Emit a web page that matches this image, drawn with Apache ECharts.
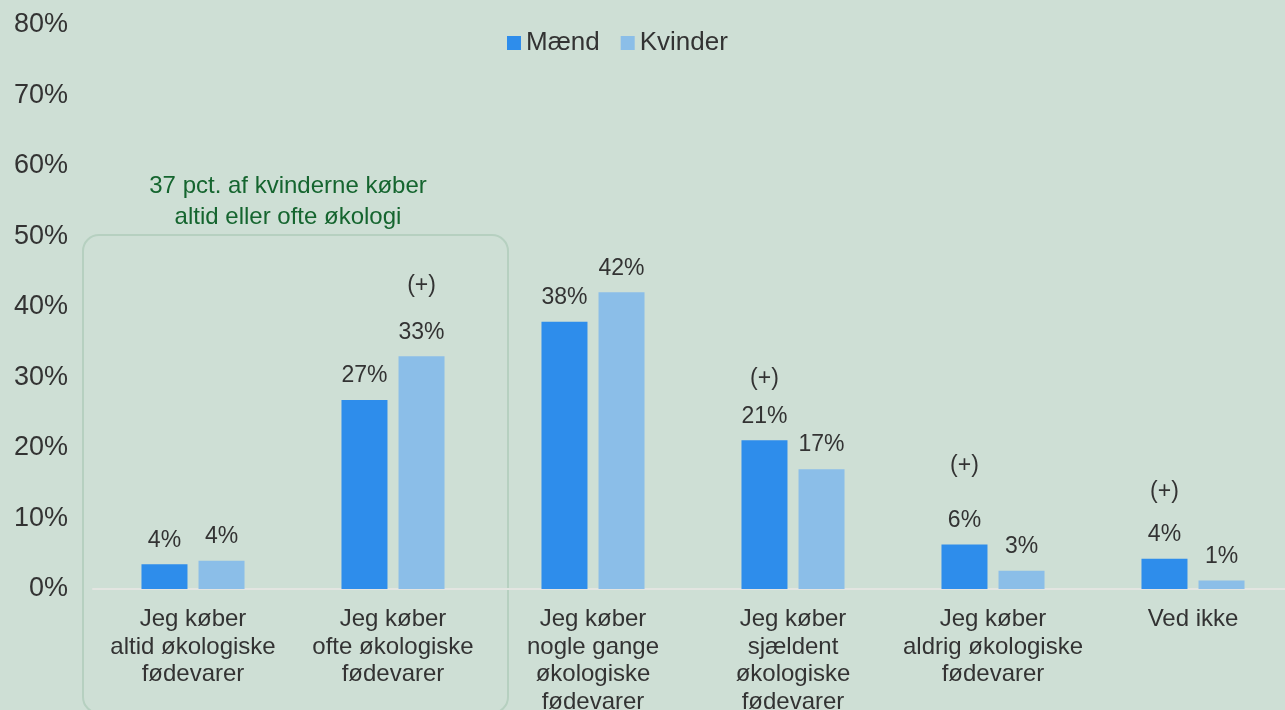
<!DOCTYPE html>
<html>
<head>
<meta charset="utf-8">
<title>Økologi – mænd og kvinder</title>
<script src="https://cdn.jsdelivr.net/npm/echarts@6/dist/echarts.min.js"></script>
<style>
  html, body { margin: 0; padding: 0; background: #cedfd5; }
  #chart { width: 1285px; height: 710px; }
</style>
</head>
<body>
<div id="chart"></div>
<script>
const categories = [
  'Jeg køber\naltid økologiske\nfødevarer',
  'Jeg køber\nofte økologiske\nfødevarer',
  'Jeg køber\nnogle gange\nøkologiske\nfødevarer',
  'Jeg køber\nsjældent\nøkologiske\nfødevarer',
  'Jeg køber\naldrig økologiske\nfødevarer',
  'Ved ikke'
]
const maend = [3.5, 26.8, 37.9, 21.1, 6.3, 4.3]
const kvinder = [4.0, 33.0, 42.1, 17.0, 2.6, 1.2]
// (+) = signifikant forskel
const maendPlus = [false, false, false, true, true, true]
const kvinderPlus = [false, true, false, false, false, false]
const yTicks = [0, 10, 20, 30, 40, 50, 60, 70, 80]

const font = "'Liberation Sans', Arial, sans-serif"
const textColor = '#333333'

// afstand fra (+) til procenttallet (midte til midte)
const maendPlusDist = [0, 0, 0, 38, 55, 43]
const kvinderPlusDist = [0, 47, 0, 0, 0, 0]

function buildData(values, plus, dist) {
  return values.map((v, i) => {
    if (!plus[i]) return v
    return {
      value: v,
      label: {
        formatter: '{p|(+)}\n{v|' + Math.round(v) + '%}',
        rich: {
          p: { fontSize: 23, lineHeight: 2 * (dist[i] - 12), color: textColor, fontFamily: font },
          v: { fontSize: 23, lineHeight: 24, color: textColor, fontFamily: font }
        }
      }
    }
  })
}

const chart = echarts.init(document.getElementById('chart'))

chart.setOption({
  backgroundColor: '#cedfd5',
  textStyle: { fontFamily: font },
  animation: false,

  legend: {
    data: ['Mænd', 'Kvinder'],
    left: 502,
    top: 25,
    icon: 'rect',
    itemWidth: 14,
    itemHeight: 14,
    itemGap: 21,
    textStyle: { fontSize: 26, color: textColor, fontFamily: font }
  },

  grid: {
    left: 93,
    top: 25,
    width: 1200,
    height: 564,
    outerBoundsMode: 'none'
  },

  xAxis: {
    type: 'category',
    data: categories,
    axisTick: { show: false },
    axisLine: { lineStyle: { color: '#e3e5e1', width: 2 } },
    axisLabel: {
      interval: 0,
      margin: 17,
      fontSize: 24,
      lineHeight: 27.5,
      color: textColor,
      fontFamily: font
    }
  },

  yAxis: {
    type: 'value',
    min: yTicks[0],
    max: yTicks[yTicks.length - 1],
    interval: 10,
    axisLine: { show: false },
    axisTick: { show: false },
    splitLine: { show: false },
    axisLabel: {
      margin: 25,
      fontSize: 27,
      padding: [4, 0, 0, 0],
      color: textColor,
      fontFamily: font,
      formatter: '{value}%'
    }
  },

  series: [{
    name: 'Mænd',
    type: 'bar',
    barWidth: 46,
    barGap: '24%',
    itemStyle: { color: '#2e8deb' },
    label: {
      show: true,
      position: 'top',
      distance: 12,
      fontSize: 23,
      lineHeight: 24,
      color: textColor,
      formatter: p => Math.round(p.value) + '%'
    },
    data: buildData(maend, maendPlus, maendPlusDist)
  }, {
    name: 'Kvinder',
    type: 'bar',
    barWidth: 46,
    barGap: '24%',
    itemStyle: { color: '#8bbee8' },
    label: {
      show: true,
      position: 'top',
      distance: 12,
      fontSize: 23,
      lineHeight: 24,
      color: textColor,
      formatter: p => Math.round(p.value) + '%'
    },
    data: buildData(kvinder, kvinderPlus, kvinderPlusDist)
  }],

  // boks og tekst om "altid eller ofte"
  graphic: [{
    type: 'rect',
    z: 0,
    shape: { x: 83, y: 235, width: 425, height: 478, r: 16 },
    style: { fill: 'none', stroke: '#b6d0c0', lineWidth: 2 }
  }, {
    type: 'text',
    z: 10,
    style: {
      text: '37 pct. af kvinderne køber\naltid eller ofte økologi',
      x: 288,
      y: 201.5,
      align: 'center',
      verticalAlign: 'middle',
      lineHeight: 31,
      fill: '#15652f',
      font: "24px 'Liberation Sans', Arial, sans-serif"
    }
  }]
})
</script>
</body>
</html>
